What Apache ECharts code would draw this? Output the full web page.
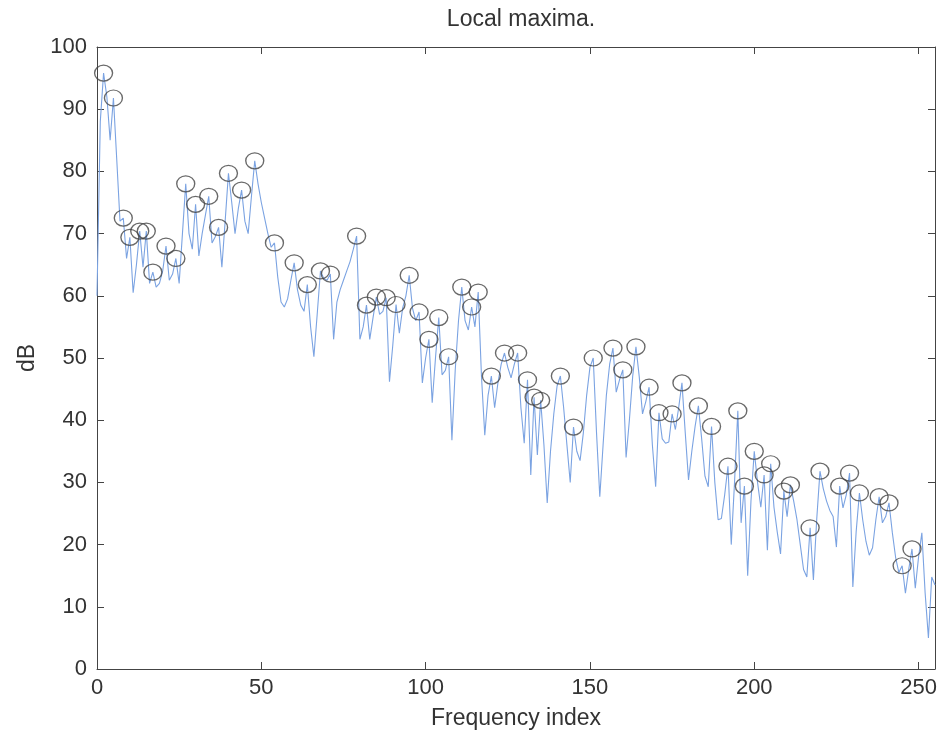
<!DOCTYPE html>
<html>
<head>
<meta charset="utf-8">
<script src="https://cdn.jsdelivr.net/npm/echarts@6/dist/echarts.min.js"></script>
<style>
  html, body { margin: 0; padding: 0; background: #fff; }
  #main { width: 943px; height: 741px; }
</style>
</head>
<body>
<div id="main"></div>
<script>
// spectrum in dB, one value per frequency index 0..255
var dB = [
    60, 88, 95.8, 92, 85, 91.8, 82, 72, 72.5, 66, 69.4, 60.5, 65, 70.4, 64.6, 70.4,
    62, 63.8, 61.4, 62, 64, 68, 62.5, 63.5, 66, 62, 70, 78, 70, 67.5, 74.7, 66.4,
    70, 73, 76, 68.5, 69.5, 71, 64.6, 72, 79.7, 75, 70, 74, 77, 72, 70, 76,
    81.7, 78, 75, 72.5, 70, 67.8, 68.5, 63, 59, 58.2, 59.5, 62.5, 65.3, 61, 58.5, 57.5,
    61.8, 55, 50.2, 57, 64, 62.8, 62.5, 63.5, 53, 59, 61, 62.5, 64, 65.5, 67.5, 69.6,
    53, 55, 58.5, 53, 56.5, 59.8, 57, 57.5, 59.7, 46.2, 52, 58.6, 54, 58, 60, 63.3,
    58, 56, 57.4, 46, 50, 53, 42.8, 50, 56.5, 47.3, 48, 50.2, 36.8, 48, 56, 61.4,
    56, 54.5, 58.2, 55, 60.6, 47, 37.6, 44, 47.1, 42, 46, 49, 50.8, 48.5, 46.8, 49,
    50.8, 42, 36.3, 46.5, 31.2, 43.7, 34.4, 43.2, 36, 26.7, 35, 41, 45.5, 47.1, 42, 36,
    30, 38.9, 35, 33.5, 38, 44, 48.5, 50, 38, 27.7, 36, 44, 49, 51.6, 44.5, 46.5,
    48.1, 34, 40, 47, 51.8, 47, 41, 43, 45.3, 36, 29.3, 41.2, 37, 36.3, 36.5, 41,
    38.5, 42, 46, 38, 30.4, 35, 39, 42.3, 37, 31, 29.3, 39, 30, 24, 24.2, 28,
    32.6, 20, 30, 41.5, 23.5, 29.4, 15, 27, 35, 30, 26, 31.2, 19.1, 33, 26, 22,
    18.5, 28.6, 24.5, 29.6, 27, 24, 20, 16, 14.8, 22.7, 14.3, 24, 31.8, 29, 27, 25.5,
    24.5, 19.6, 29.4, 25.9, 28, 31.5, 13.2, 22, 28.3, 24, 20.5, 18.3, 19.5, 24, 27.7, 23.5,
    24.5, 26.7, 22, 18, 15.5, 16.6, 12.2, 16, 19.3, 13, 18, 21.9, 12.2, 5, 14.8, 13.5
];

// indices that were marked as local maxima
var peakIdx = [
    2, 5, 8, 10, 13, 15, 17, 21, 24, 27, 30, 34, 37, 40, 44, 48,
    54, 60, 64, 68, 71, 79, 82, 85, 88, 91, 95, 98, 101, 104, 107, 111,
    114, 116, 120, 124, 128, 131, 133, 135, 141, 145, 151, 157, 160, 164, 168, 171,
    175, 178, 183, 187, 192, 195, 197, 200, 203, 205, 209, 211, 217, 220, 226, 229,
    232, 238, 241, 245, 248
];

var lineData = dB.map(function (v, i) { return [i, v]; });
var peakData = peakIdx.map(function (i) { return [i, dB[i]]; });

var font = 'Liberation Sans, Arial, sans-serif';
var axisCol = '#444';
var txtCol = '#333';

var myChart = echarts.init(document.getElementById('main'));
var option = {
    backgroundColor: '#fff',
    animation: false,
    title: {
        text: 'Local maxima.',
        left: 516,
        top: 3,
        textAlign: 'center',
        textStyle: { color: txtCol, fontSize: 23, fontWeight: 'normal', fontFamily: font }
    },
    grid: { left: 97, right: 8, top: 47, bottom: 72 },
    xAxis: [{
        type: 'value',
        min: 0,
        max: 255,
        interval: 50,
        name: 'Frequency index',
        nameLocation: 'middle',
        nameGap: 38,
        nameTextStyle: { color: txtCol, fontSize: 23, fontFamily: font },
        axisLine: { onZero: false, lineStyle: { color: axisCol } },
        axisTick: { inside: true, length: 7, lineStyle: { color: axisCol } },
        axisLabel: { color: txtCol, fontSize: 22, fontFamily: font, margin: 8 },
        splitLine: { show: false }
    }, {
        type: 'value',
        position: 'top',
        min: 0,
        max: 255,
        interval: 50,
        axisLine: { show: true, onZero: false, lineStyle: { color: axisCol } },
        axisTick: { show: true, inside: true, length: 7, lineStyle: { color: axisCol } },
        axisLabel: { show: false },
        splitLine: { show: false }
    }],
    yAxis: [{
        type: 'value',
        min: 0,
        max: 100,
        interval: 10,
        name: 'dB',
        nameLocation: 'middle',
        nameGap: 52,
        nameTextStyle: { color: txtCol, fontSize: 23, fontFamily: font },
        axisLine: { show: true, onZero: false, lineStyle: { color: axisCol } },
        axisTick: { show: true, inside: true, length: 7, lineStyle: { color: axisCol } },
        axisLabel: { color: txtCol, fontSize: 22, fontFamily: font, margin: 10 },
        splitLine: { show: false }
    }, {
        type: 'value',
        position: 'right',
        min: 0,
        max: 100,
        interval: 10,
        axisLine: { show: true, onZero: false, lineStyle: { color: axisCol } },
        axisTick: { show: true, inside: true, length: 7, lineStyle: { color: axisCol } },
        axisLabel: { show: false },
        splitLine: { show: false }
    }],
    series: [{
        name: 'spectrum',
        type: 'line',
        xAxisIndex: 0,
        yAxisIndex: 0,
        data: lineData,
        symbol: 'none',
        lineStyle: { color: '#7ba3e2', width: 1.1 }
    }, {
        // same scales as the main axes, bound to the top/right pair so those get drawn
        name: 'maxima',
        type: 'scatter',
        xAxisIndex: 1,
        yAxisIndex: 1,
        data: peakData,
        symbol: 'circle',
        symbolSize: [18, 16],
        itemStyle: { color: 'rgba(0,0,0,0)', borderColor: '#444', borderWidth: 1.3 },
        z: 3
    }]
};
myChart.setOption(option);
</script>
</body>
</html>
